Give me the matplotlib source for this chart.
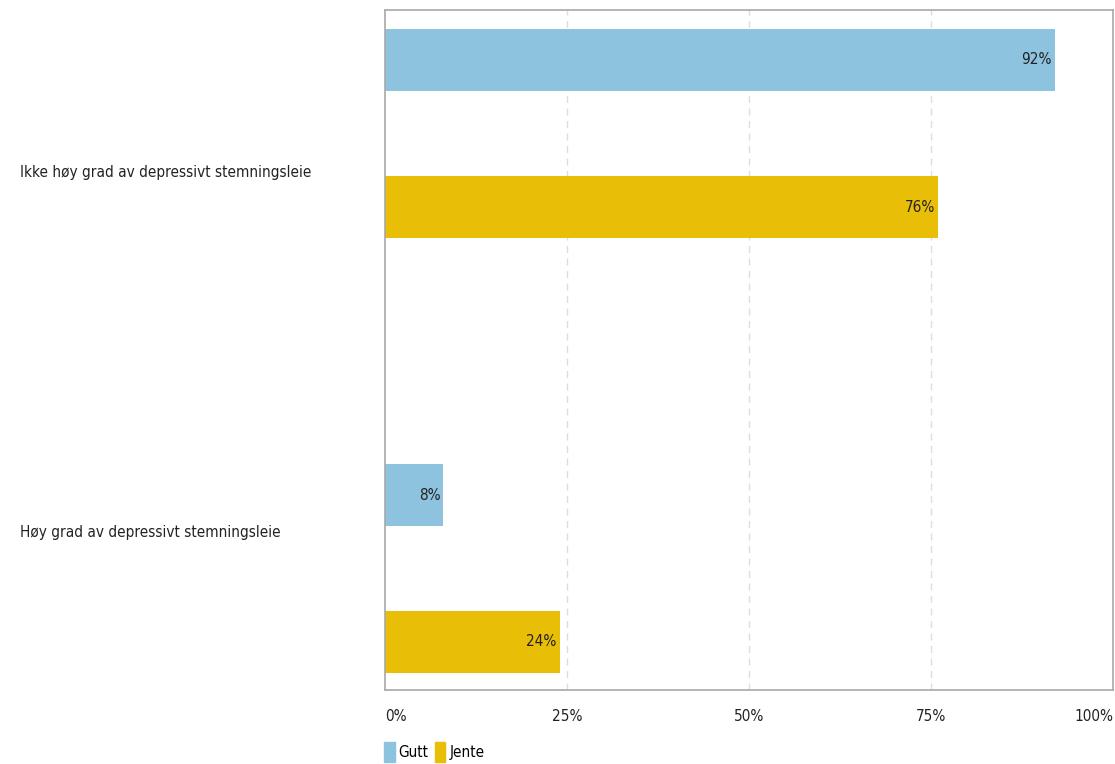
import matplotlib.pyplot as plt
from matplotlib import font_manager
from matplotlib.patches import Patch
from matplotlib.transforms import blended_transform_factory

categories = ["Ikke høy grad av depressivt stemningsleie", "Høy grad av depressivt stemningsleie"]
series = ["Gutt", "Jente"]
gutt = [92, 8]
jente = [76, 24]
ticks = [0, 25, 50, 75, 100]
tick_labels = ["0%", "25%", "50%", "75%", "100%"]

colors = ["#8DC3DF", "#E9BE07"]

# look for a narrow/condensed face; fall back to DejaVu Sans
narrow = None
for f in font_manager.fontManager.ttflist:
    n = f.fname.lower()
    if ("condensed" in n or "narrow" in n) and "bold" not in n and "oblique" not in n and "italic" not in n:
        narrow = f.fname
        break
if narrow:
    fp = font_manager.FontProperties(fname=narrow, size=11)
else:
    fp = font_manager.FontProperties(family="DejaVu Sans", size=10)

fig = plt.figure(figsize=(11.15, 7.64), dpi=100)
ax = fig.add_axes([385 / 1115, 74 / 764, 728 / 1115, 680 / 764])

# vertical layout in pixel-like units (0 at top)
group_centers = [123.5, 558.5]
offsets = [-73.5, 73.5]
label_pos = [162, 523]
bar_h = 62

for s, vals in enumerate([gutt, jente]):
    ys = [c + offsets[s] for c in group_centers]
    ax.barh(ys, vals, height=bar_h, color=colors[s], zorder=2)
    for y, v in zip(ys, vals):
        ax.text(v - 0.4, y, f"{v}%", ha="right", va="center", fontproperties=fp, color="#222222", zorder=3)

ax.set_xlim(0, 100)
ax.set_ylim(680, 0)
ax.set_yticks([])
ax.set_xticks(ticks)
ax.set_xticklabels(tick_labels, fontproperties=fp, color="#222222")
lbls = ax.get_xticklabels()
lbls[0].set_ha("left")
lbls[-1].set_ha("right")
ax.tick_params(axis="x", length=0, pad=14)
for t in ticks[1:-1]:
    ax.axvline(t, color="#DDDDDD", linestyle=(0, (5, 4)), linewidth=1, zorder=1)
for sp in ax.spines.values():
    sp.set_color("#A8A8A8")
    sp.set_linewidth(1.2)

trans = blended_transform_factory(fig.transFigure, ax.transData)
for y, lab in zip(label_pos, categories):
    ax.text(20 / 1115, y, lab, transform=trans, ha="left", va="center", fontproperties=fp, color="#222222")

handles = [Patch(color=c, label=l) for c, l in zip(colors, series)]
fig.legend(handles=handles, loc="lower left", bbox_to_anchor=(378 / 1115, -0.006), ncol=2, frameon=False,
           handlelength=0.7, handleheight=1.7, handletextpad=0.25, columnspacing=0.4, prop=fp,
           borderaxespad=0)

fig.savefig("out.png", dpi=100)
